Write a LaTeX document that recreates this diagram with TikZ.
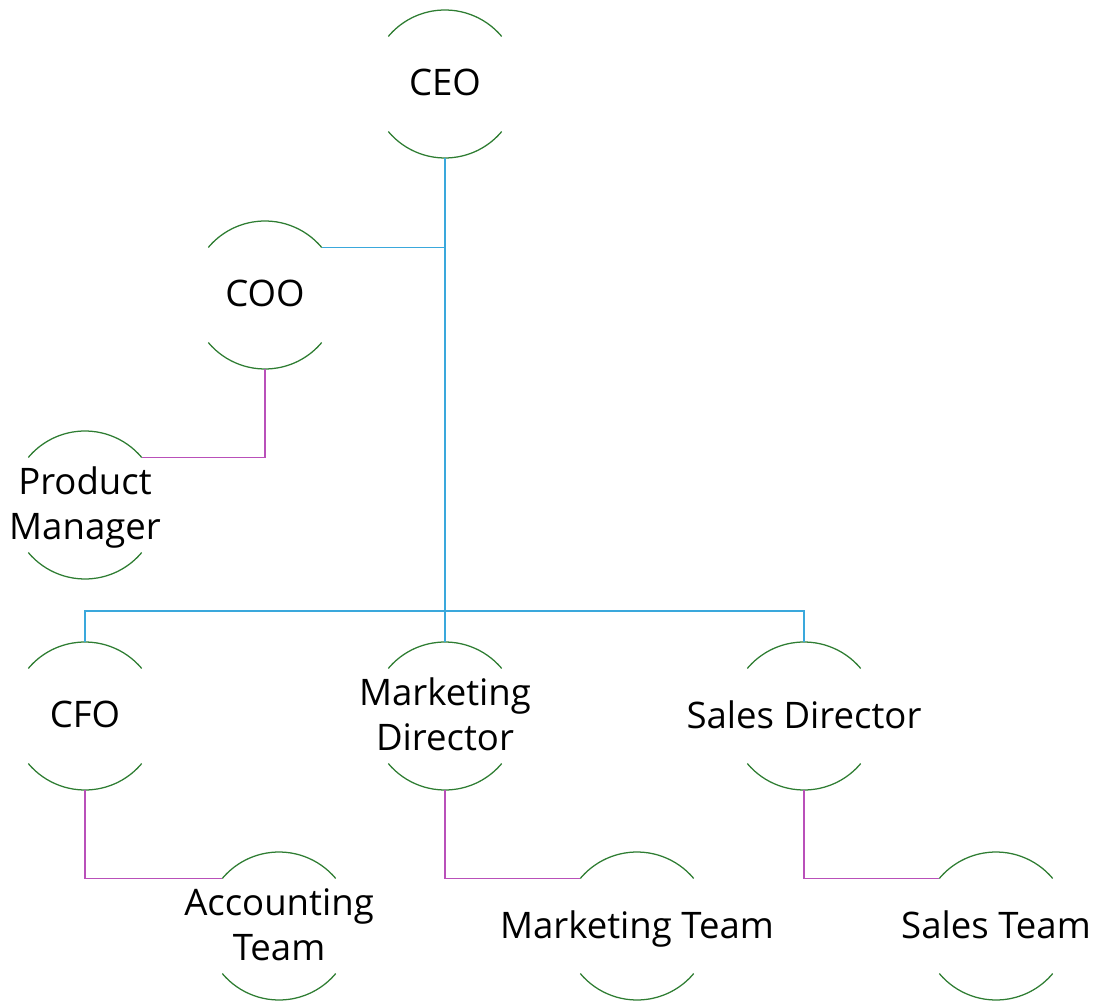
\documentclass[tikz,border=0pt]{standalone}
\usepackage{fontspec}
\setmainfont{Open Sans}
\usepackage{tikz}
\usepackage[dvipsnames]{xcolor}

\definecolor{ringgreen}{RGB}{46,125,50}
\definecolor{linkblue}{RGB}{58,168,220}
\definecolor{linkpink}{RGB}{185,80,185}

\tikzset{
    member/.style={inner sep=0pt, align=center, text depth=0.25em, font=\fontsize{26}{32}\selectfont},
    ring/.style={draw=ringgreen, line width=0.9pt},
    toplink/.style={draw=linkblue, line width=1.3pt},
    sublink/.style={draw=linkpink, line width=1.3pt}
}
\newcommand{\rr}{1.85cm}

\begin{document}
\begin{tikzpicture}[scale=1]
    \useasboundingbox (0,0) rectangle (27.55,25.05);

    % people
    \node[member] (ceo) at (11.125,22.95) {CEO};
    \node[member] (coo) at (6.625,17.675) {COO};
    \node[member] (pm)  at (2.125,12.425) {Product\\Manager};
    \node[member] (cfo) at (2.125,7.15)   {CFO};
    \node[member] (md)  at (11.125,7.15)  {Marketing\\Director};
    \node[member] (sd)  at (20.1,7.15)    {Sales Director};
    \node[member] (at)  at (6.975,1.9)    {Accounting\\Team};
    \node[member] (mt)  at (15.925,1.9)   {Marketing Team};
    \node[member] (st)  at (24.9,1.9)     {Sales Team};
    \coordinate (bus) at (11.125,9.775);

    % open rings round every name
    \foreach \n in {ceo,coo,pm,cfo,md,sd,at,mt,st}{
        \draw[ring] ([shift={(40:\rr)}]\n.center) arc[start angle=40, end angle=140, radius=\rr];
        \draw[ring] ([shift={(220:\rr)}]\n.center) arc[start angle=220, end angle=320, radius=\rr];
    }

    % CEO and the people under it
    \draw[toplink]
    ([yshift=-\rr]ceo.center) -- ([yshift=\rr]md.center)
    ([yshift=-\rr]ceo.center) |- ([shift={(40:\rr)}]coo.center)
    ([yshift=\rr]cfo.center) |- (bus) -| ([yshift=\rr]sd.center)
    ;

    % teams
    \draw[sublink]
    ([yshift=-\rr]coo.center) |- ([shift={(40:\rr)}]pm.center)
    ([yshift=-\rr]cfo.center) |- ([shift={(140:\rr)}]at.center)
    ([yshift=-\rr]md.center) |- ([shift={(140:\rr)}]mt.center)
    ([yshift=-\rr]sd.center) |- ([shift={(140:\rr)}]st.center)
    ;

\end{tikzpicture}
\end{document}
